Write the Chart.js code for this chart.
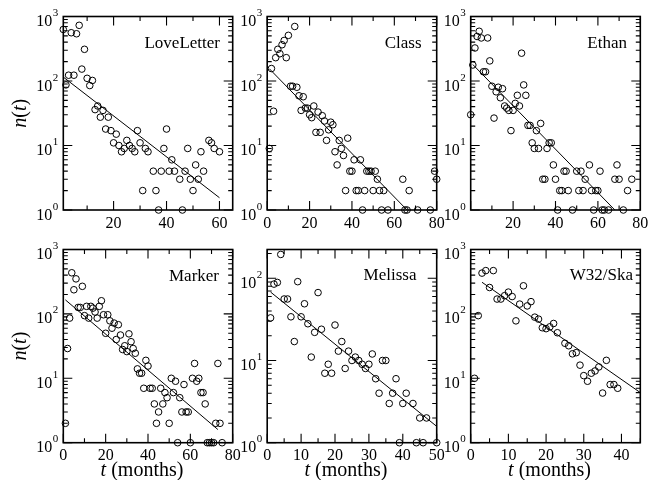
<!DOCTYPE html>
<html>
<head>
<meta charset="utf-8">
<script src="https://cdn.jsdelivr.net/npm/chart.js@4/dist/chart.umd.min.js"></script>
<style>
  html, body { margin: 0; padding: 0; background: #fff; }
  #wrap { position: relative; width: 658px; height: 480px; overflow: hidden; background: #fff; }
  #wrap canvas { position: absolute; left: 0; top: 0; }
</style>
</head>
<body>
<div id="wrap"></div>
<script>
// ---- monthly counts n(t) per virus, t in months ----
const loveLetterT = [1,2,3,4,5,6,7,8,9,10,11,12,13,14,15,16,17,18,19,20,21,22,23,24,25,26,27,28,29,30,31,32,33,35,36,37,38,39,40,41,42,43,45,46,47,48,49,50,51,52,53,54,56,57,58,60];
const loveLetterN = [630,87,123,560,123,540,730,153,310,110,85,102,36,41,27.5,35,18,27.5,17,11,15,10,8,9,12,10,9,8,17,11,2,9,8,4,2,1,4,9,18,4,6,4,3,1,4,9,3,2,5,3,8,4,12,11,9,8];
const loveLetterFitT = [1, 60];
const loveLetterFitN = [115, 1.55];

const classT = [1,2,3,4,5,6,7,8,9,10,11,12,13,14,15,16,17,18,19,20,21,22,23,24,25,26,27,28,29,30,31,32,33,34,35,36,37,38,39,40,41,42,43,44,45,46,47,48,49,50,51,52,53,54,55,57,64,65,66,67,71,77,79,80];
const classN = [9,156,34,230,310,265,365,425,230,510,83,83,700,80,59,35,57,38,38,30,27,41,16,33,16,29,24,12,17.5,23,21,8,5,12,9,7,2,13,4,4,6,2,2,6,1,2,4,4,4,2,4,3,2,1,2,1,3,1,1,2,1,1,4,3];
const classFitT = [1, 66];
const classFitN = [155, 1];

const ethanT = [0,1,2,3,4,5,6,7,8,9,10,11,12,13,14,15,16,17,18,19,20,21,22,23,24,25,26,27,28,29,30,31,32,33,34,35,36,37,38,39,40,41,42,43,44,45,46,48,50,51,52,53,54,56,57,58,59,60,61,62,63,65,68,69,70,72,74,76];
const ethanN = [30,177,325,490,590,465,139,139,465,205,83,26.6,68,80,55,76,41,38,35,17,35,45,60,41,270,87,60,20.5,20.5,11,9,17,9,22,3,3,9,11,11,5,3,1,2,2,4,4,2,1,4,2,4,2,3,5,2,1,2,2,4,1,1,1,3,5,3,1,2,3];
const ethanFitT = [1, 68];
const ethanFitN = [180, 1];

const markerT = [1,2,3,4,5,6,7,8,9,10,11,12,13,14,15,16,17,18,19,20,21,22,23,24,25,26,27,28,29,30,31,32,33,34,35,36,37,38,39,40,41,42,43,44,45,46,47,48,49,50,51,52,53,54,55,56,57,58,59,60,61,62,63,64,65,66,67,68,69,70,71,72,73,74,75];
const markerN = [2,29,86,435,237,350,126,126,268,94,131,86,131,123,107,86,131,160,97,50,97,78,60,72,40,68,47,28,32,26,49,37,29,24.5,14,12,12,7,19,15.5,7,7,4,2,3,7,4,6,5,2,10,6,9,1,5,3,8,3,3,1,10,17,9,10,6,6,4,1,1,1,1,2,17,2,1];
const markerFitT = [1, 73];
const markerFitN = [165, 1.6];

const melissaT = [1,2,3,4,5,6,7,8,9,10,11,12,13,14,15,16,17,18,19,20,21,22,23,24,25,26,27,28,29,30,31,32,33,34,35,36,37,38,39,40,41,43,44,45,46,47,50];
const melissaN = [33,85,89,195,56,56,34,17,91,34,49,28,11,22,67,24,7,9,7,27,13,17,8,13,10,11,10,9,8,9,12,6,4,10,10,3,4,6,1,3,4,3,1,2,1,2,1];
const melissaFitT = [1, 50];
const melissaFitN = [68, 1.58];

const w32T = [1,2,3,4,5,6,7,8,9,10,11,12,13,14,15,16,17,18,19,20,21,22,23,25,26,27,28,29,30,31,32,33,34,35,36,37,38,39];
const w32N = [10,94,430,470,257,470,170,170,192,218,186,78,142,273,133,155,89,83,61,59,63,71,51,35,32,24,25,16,11,9,12,13,15,5.9,19,8,8,7];
const w32FitT = [3, 45];
const w32FitN = [310, 6];

// ---- tick labels ----
const xLabelsLoveLetter = [20, 40, 60];
const xLabelsClass = [0, 20, 40, 60, 80];
const xLabelsEthan = [20, 40, 60, 80];
const xLabelsMarker = [0, 20, 40, 60, 80];
const xLabelsMelissa = [0, 10, 20, 30, 40, 50];
const xLabelsW32 = [0, 10, 20, 30, 40];
const yDecadeExponents = [0, 1, 2, 3];

// ---- panel layout (pixel boxes of the plot areas) ----
const COLS = [[63.3, 232.7], [267.2, 436.7], [470.7, 640.3]];
const ROWS = [[16.5, 210], [249.5, 442.7]];

const panels = [
  { name: 'LoveLetter', t: loveLetterT, n: loveLetterN, ft: loveLetterFitT, fn: loveLetterFitN,
    xMin: 1, xMax: 65, step: 20, yMax: 1000, labels: xLabelsLoveLetter, col: 0, row: 0, title: [220, 48] },
  { name: 'Class', t: classT, n: classN, ft: classFitT, fn: classFitN,
    xMin: 0, xMax: 80, step: 20, yMax: 1000, labels: xLabelsClass, col: 1, row: 0, title: [421.5, 48] },
  { name: 'Ethan', t: ethanT, n: ethanN, ft: ethanFitT, fn: ethanFitN,
    xMin: 0, xMax: 80, step: 20, yMax: 1000, labels: xLabelsEthan, col: 2, row: 0, title: [627, 48] },
  { name: 'Marker', t: markerT, n: markerN, ft: markerFitT, fn: markerFitN,
    xMin: 0, xMax: 80, step: 20, yMax: 1000, labels: xLabelsMarker, col: 0, row: 1, title: [219, 280.5] },
  { name: 'Melissa', t: melissaT, n: melissaN, ft: melissaFitT, fn: melissaFitN,
    xMin: 0, xMax: 50, step: 10, yMax: 224, labels: xLabelsMelissa, col: 1, row: 1, title: [416.5, 280] },
  { name: 'W32/Ska', t: w32T, n: w32N, ft: w32FitT, fn: w32FitN,
    xMin: 0, xMax: 45, step: 10, yMax: 1000, labels: xLabelsW32, col: 2, row: 1, title: [633, 280] }
];

const SERIF = '"Liberation Serif", "Times New Roman", serif';
const W = 658, H = 480;

// draws "10" with a raised exponent, right edge at xRight, centred on tick y
function drawPower(ctx, xRight, y, exp) {
  ctx.textAlign = 'left';
  ctx.textBaseline = 'alphabetic';
  ctx.font = '11px ' + SERIF;
  const ew = ctx.measureText(String(exp)).width;
  ctx.font = '16px ' + SERIF;
  const bw = ctx.measureText('10').width;
  ctx.fillText('10', xRight - ew - bw - 0.5, y + 9.5);
  ctx.font = '11px ' + SERIF;
  ctx.fillText(String(exp), xRight - ew, y - 0.5);
}

// draws a run of [text, italic] pieces starting at x on the current baseline
function drawRuns(ctx, runs, size, x, y) {
  let cx = x;
  for (const [txt, ital] of runs) {
    ctx.font = (ital ? 'italic ' : '') + size + 'px ' + SERIF;
    ctx.fillText(txt, cx, y);
    cx += ctx.measureText(txt).width;
  }
}
function runsWidth(ctx, runs, size) {
  let w = 0;
  for (const [txt, ital] of runs) {
    ctx.font = (ital ? 'italic ' : '') + size + 'px ' + SERIF;
    w += ctx.measureText(txt).width;
  }
  return w;
}

// frame, inward ticks on all four sides, tick labels, panel name and axis titles
const panelAxes = {
  id: 'panelAxes',
  afterDraw(chart, args, opts) {
    const p = opts.panel;
    const { ctx, chartArea: a } = chart;
    const xs = chart.scales.x, ys = chart.scales.y;
    ctx.save();
    ctx.strokeStyle = '#000';
    ctx.fillStyle = '#000';

    // x ticks
    ctx.lineWidth = 1.1;
    ctx.beginPath();
    const half = p.step / 2;
    for (let v = Math.ceil(p.xMin / half) * half; v <= p.xMax + 1e-9; v += half) {
      const major = Math.abs(v / p.step - Math.round(v / p.step)) < 1e-6;
      const len = major ? 9 : 4.5;
      const px = xs.getPixelForValue(v);
      ctx.moveTo(px, a.bottom); ctx.lineTo(px, a.bottom - len);
      ctx.moveTo(px, a.top); ctx.lineTo(px, a.top + len);
    }
    // y ticks (decades and 2..9 minors)
    for (let k = 0; k <= 3; k++) {
      for (let m = 1; m <= 9; m++) {
        const v = m * Math.pow(10, k);
        if (v > p.yMax * 1.0001) continue;
        const len = m === 1 ? 9 : 4.5;
        const py = ys.getPixelForValue(v);
        ctx.moveTo(a.left, py); ctx.lineTo(a.left + len, py);
        ctx.moveTo(a.right, py); ctx.lineTo(a.right - len, py);
      }
    }
    ctx.stroke();

    // frame
    ctx.lineWidth = 1.6;
    ctx.strokeRect(a.left, a.top, a.right - a.left, a.bottom - a.top);

    // x tick labels
    ctx.font = '16px ' + SERIF;
    ctx.textAlign = 'center';
    ctx.textBaseline = 'alphabetic';
    for (const v of p.labels) {
      ctx.fillText(String(v), xs.getPixelForValue(v), a.bottom + 17.5);
    }
    // y tick labels
    for (const e of yDecadeExponents) {
      const v = Math.pow(10, e);
      if (v > p.yMax * 1.0001) continue;
      drawPower(ctx, a.left - 5, ys.getPixelForValue(v), e);
    }

    // panel name
    ctx.font = '17px ' + SERIF;
    ctx.textAlign = 'right';
    ctx.fillText(p.name, p.title[0], p.title[1]);

    // axis titles
    ctx.textAlign = 'left';
    if (p.col === 0) {
      const runs = [['n', true], ['(', false], ['t', true], [')', false]];
      const w = runsWidth(ctx, runs, 20);
      ctx.save();
      ctx.translate(25.5, (a.top + a.bottom) / 2);
      ctx.rotate(-Math.PI / 2);
      drawRuns(ctx, runs, 20, -w / 2, 0);
      ctx.restore();
    }
    if (p.row === 1) {
      const runs = [['t', true], [' (months)', false]];
      const w = runsWidth(ctx, runs, 20);
      const cx = (a.left + a.right) / 2 - 6;
      drawRuns(ctx, runs, 20, cx - w / 2, 476);
    }
    ctx.restore();
  }
};

const wrap = document.getElementById('wrap');
for (const p of panels) {
  const cv = document.createElement('canvas');
  cv.width = W; cv.height = H;
  cv.style.width = W + 'px'; cv.style.height = H + 'px';
  wrap.appendChild(cv);
  const [l, r] = COLS[p.col];
  const [t, b] = ROWS[p.row];
  new Chart(cv.getContext('2d'), {
    type: 'scatter',
    data: {
      datasets: [
        {
          data: p.ft.map((x, i) => ({ x: x, y: p.fn[i] })),
          showLine: true,
          borderColor: '#000',
          borderWidth: 1,
          pointRadius: 0,
          fill: false
        },
        {
          data: p.t.map((x, i) => ({ x: x, y: p.n[i] })),
          showLine: false,
          pointStyle: 'circle',
          pointRadius: 3.3,
          pointBorderWidth: 1,
          borderColor: '#000',
          backgroundColor: 'rgba(0,0,0,0)',
          clip: false
        }
      ]
    },
    options: {
      responsive: false,
      animation: false,
      devicePixelRatio: 1,
      events: [],
      layout: { padding: { left: l, right: W - r, top: t, bottom: H - b } },
      scales: {
        x: { type: 'linear', min: p.xMin, max: p.xMax, display: false },
        y: { type: 'logarithmic', min: 1, max: p.yMax, display: false }
      },
      plugins: {
        legend: { display: false },
        tooltip: { enabled: false },
        panelAxes: { panel: p }
      }
    },
    plugins: [panelAxes]
  });
}
</script>
</body>
</html>
